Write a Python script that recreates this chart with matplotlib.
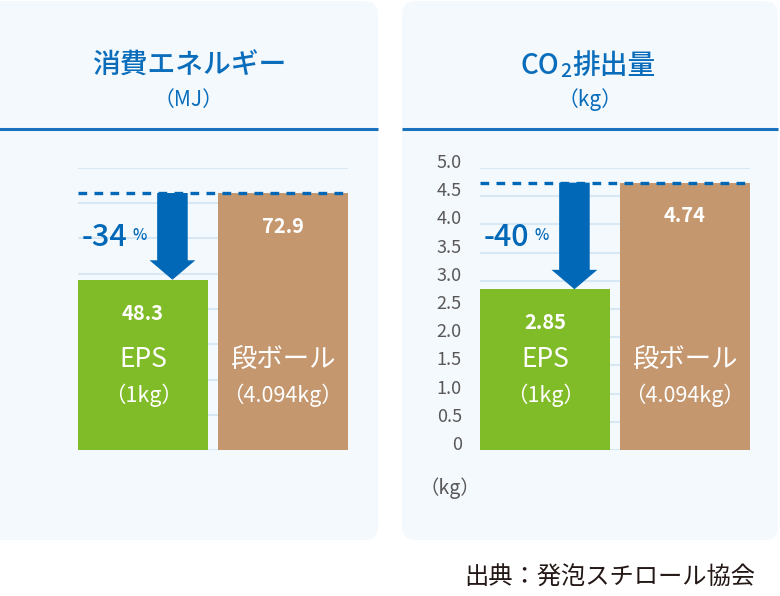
import matplotlib.pyplot as plt
from matplotlib.patches import FancyBboxPatch
import matplotlib.transforms as mtransforms

plt.rcParams['font.family'] = ['Noto Sans CJK JP', 'DejaVu Sans']

# data
categories = ['EPS', '段ボール']
sub_labels = ['（1kg）', '（4.094kg）']
energy_mj = [48.3, 72.9]
co2_kg = [2.85, 4.74]
energy_ticks = [0, 10, 20, 30, 40, 50, 60, 70, 80]
co2_ticks = [0, 0.5, 1.0, 1.5, 2.0, 2.5, 3.0, 3.5, 4.0, 4.5, 5.0]
co2_tick_labels = ['0', '0.5', '1.0', '1.5', '2.0', '2.5', '3.0', '3.5', '4.0', '4.5', '5.0']

BLUE = '#0a6dbb'
ARROW = '#0068b7'
GREEN = '#80bc27'
BROWN = '#c4976e'
GRID = '#d7e7f4'
PANEL = '#f4f9fd'

W, H = 780, 596
fig = plt.figure(figsize=(W / 100, H / 100), dpi=100)


def px_rect(x0, y0, x1, y1):
    return [x0 / W, 1 - y1 / H, (x1 - x0) / W, (y1 - y0) / H]


bg = fig.add_axes([0, 0, 1, 1])
bg.set_xlim(0, W)
bg.set_ylim(H, 0)
bg.axis('off')

for x0, x1 in [(-14, 378), (402, 778)]:
    bg.add_patch(FancyBboxPatch((x0, 1), x1 - x0, 539,
                                boxstyle='round,pad=0,rounding_size=14',
                                fc=PANEL, ec='none'))
    bg.plot([x0, x1], [129, 129], color='#1a72bd', lw=2.2, solid_capstyle='butt')

bg.text(189, 65, '消費エネルギー', ha='center', va='center', fontsize=20,
        fontweight='medium', color=BLUE)
bg.text(189, 100, '（MJ）', ha='center', va='center', fontsize=15, color=BLUE)

# CO2 title built from pieces so the 2 sits low
t_co = bg.text(520, 65, 'CO', ha='left', va='center', fontsize=20,
               fontweight='medium', color=BLUE)
t_2 = bg.annotate('2', xy=(1, 0), xycoords=t_co, xytext=(1, -1), textcoords='offset points',
                  ha='left', va='bottom', fontsize=14, fontweight='medium', color=BLUE)
bg.annotate('排出量', xy=(1, 0.5), xycoords=(t_2, t_co), xytext=(1, 0),
            textcoords='offset points', ha='left', va='center', fontsize=20,
            fontweight='medium', color=BLUE)
bg.text(590, 100, '（kg）', ha='center', va='center', fontsize=15, color=BLUE)
bg.text(450, 488, '（kg）', ha='center', va='center', fontsize=14, color='#595757')
bg.text(755, 578, '出典：発泡スチロール協会', ha='right', va='center', fontsize=17.5,
        color='#231815')


def draw_chart(rect, values, ticks, ymax, value_fmt, show_labels, tick_labels=None):
    ax = fig.add_axes(px_rect(*rect))
    ax.set_facecolor('none')
    for s in ax.spines.values():
        s.set_visible(False)
    x = [0, 1]
    ax.bar(x, values, width=0.93, color=[GREEN, BROWN], zorder=2)
    ax.set_xlim(-0.465, 1.465)
    ax.set_ylim(0, ymax)
    for t in ticks:
        ax.axhline(t, color=GRID, lw=1.5, zorder=0)
    ax.set_xticks([])
    ax.set_yticks(ticks)
    if show_labels:
        ax.set_yticklabels(tick_labels, fontsize=13, color='#595757')
        ax.tick_params(axis='y', length=0, pad=13)
        # labels sit a little above their gridlines in the original
        up = mtransforms.ScaledTranslation(0, 5 / 72, fig.dpi_scale_trans)
        for lab in ax.get_yticklabels():
            lab.set_transform(lab.get_transform() + up)
    else:
        ax.set_yticklabels([])
        ax.tick_params(axis='y', length=0)

    # dashed reference line at the larger value
    ax.axhline(values[1], color=ARROW, lw=2.4, ls=(0, (2.6, 2.2)), zorder=3)

    trans = mtransforms.blended_transform_factory(ax.transData, ax.transAxes)
    for i, v in enumerate(values):
        ax.annotate(value_fmt.format(v), xy=(i, v), xytext=(0, -24),
                    textcoords='offset points', ha='center', va='center',
                    fontsize=14.5, fontweight='bold', color='white', zorder=4)
        ax.text(i, 0.32, categories[i], transform=trans, ha='center', va='center',
                fontsize=19, color='white', zorder=4)
        ax.text(i, 0.195, sub_labels[i], transform=trans, ha='center', va='center',
                fontsize=15.5, color='white', zorder=4)

    # arrow from the larger value down to EPS
    ax.annotate('', xy=(0.21, values[0]), xytext=(0.21, values[1]),
                arrowprops=dict(arrowstyle='simple,head_width=33,head_length=14,tail_width=22',
                                mutation_scale=1, color=ARROW, shrinkA=0, shrinkB=0,
                                lw=0),
                zorder=5)

    pct = round((values[0] - values[1]) / values[1] * 100)
    t1 = ax.text(0.012, 0.755, f'{pct}', transform=ax.transAxes, ha='left',
                 va='center', fontsize=22, fontweight='medium', color=ARROW, zorder=4)
    ax.annotate('%', xy=(1, 0), xycoords=t1, xytext=(4, 6),
                textcoords='offset points', ha='left', va='bottom',
                fontsize=11, fontweight='medium', color=ARROW, zorder=4)
    return ax


draw_chart((78, 168, 348, 450), energy_mj, energy_ticks, 80, '{:.1f}', False)
draw_chart((480, 168, 750, 450), co2_kg, co2_ticks, 5.0, '{:.2f}', True, co2_tick_labels)

fig.savefig('out.png', dpi=100, facecolor='white')
